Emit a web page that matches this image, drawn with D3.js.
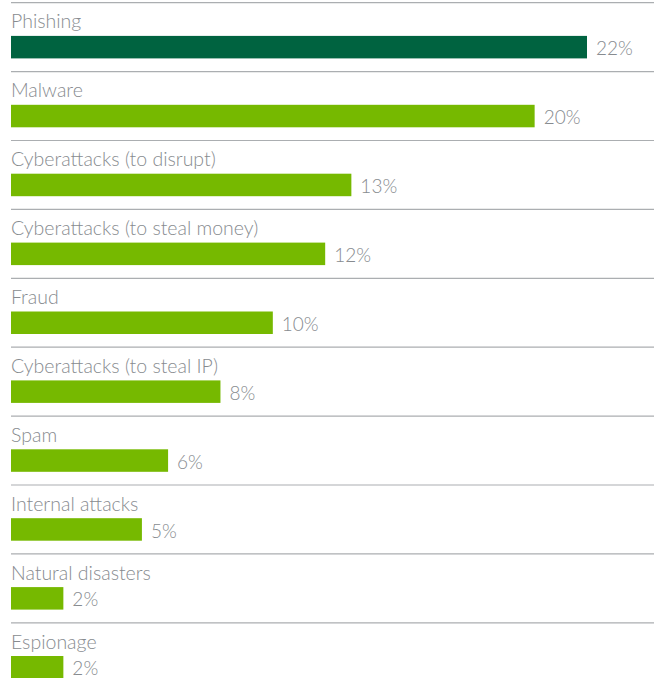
<!DOCTYPE html>
<html>
<head>
<meta charset="utf-8">
<style>
body { margin: 0; background: #fff; }
text.cat, text.val {
  font-family: Lato, "Open Sans", sans-serif;
  font-weight: 300;
  font-size: 19.5px;
  fill: #878b8f;
}
text.val { font-size: 19px; }
line.rule {
  stroke: #abaeb1;
  stroke-width: 1.2px;
}
</style>
<title></title>
</head>
<body>
<script src="https://cdnjs.cloudflare.com/ajax/libs/d3/7.8.5/d3.min.js"></script>
<script>

var categories = ["Phishing", "Malware", "Cyberattacks (to disrupt)", "Cyberattacks (to steal money)",
  "Fraud", "Cyberattacks (to steal IP)", "Spam", "Internal attacks", "Natural disasters", "Espionage"];
var values = [22, 20, 13, 12, 10, 8, 6, 5, 2, 2];
var valueLabels = ["22%", "20%", "13%", "12%", "10%", "8%", "6%", "5%", "2%", "2%"];

var width = 656,
    height = 678;

var data = categories.map(function(c, i) {
  return {name: c, value: values[i], label: valueLabels[i], top: i == 0};
});

var svg = d3.select("body").append("svg")
    .attr("width", width)
    .attr("height", height);

// one band per row, rule line at the top of each band
var y = d3.scaleBand()
    .domain(categories)
    .range([2.2, 2.2 + 68.9 * categories.length]);

var x = d3.scaleLinear()
    .domain([0, 22])
    .range([11, 587]);

var row = svg.selectAll("g.row")
    .data(data)
    .enter().append("g")
    .attr("class", "row")
    .attr("transform", function(d) { return "translate(0," + y(d.name) + ")"; });

row.append("line")
    .attr("class", "rule")
    .attr("x1", 11)
    .attr("x2", 654)
    .attr("y1", 0.5)
    .attr("y2", 0.5);

row.append("text")
    .attr("class", "cat")
    .attr("x", 11)
    .attr("y", 26.3)
    .text(function(d) { return d.name; });

row.append("rect")
    .attr("x", x(0))
    .attr("y", 33.7)
    .attr("height", 22.5)
    .attr("width", function(d) { return x(d.value) - x(0); })
    .style("fill", function(d) { return d.top ? "#006340" : "#76b900"; });

row.append("text")
    .attr("class", "val")
    .attr("x", function(d) { return x(d.value) + 9; })
    .attr("y", 53)
    .text(function(d) { return d.label; });

</script>
</body>
</html>
